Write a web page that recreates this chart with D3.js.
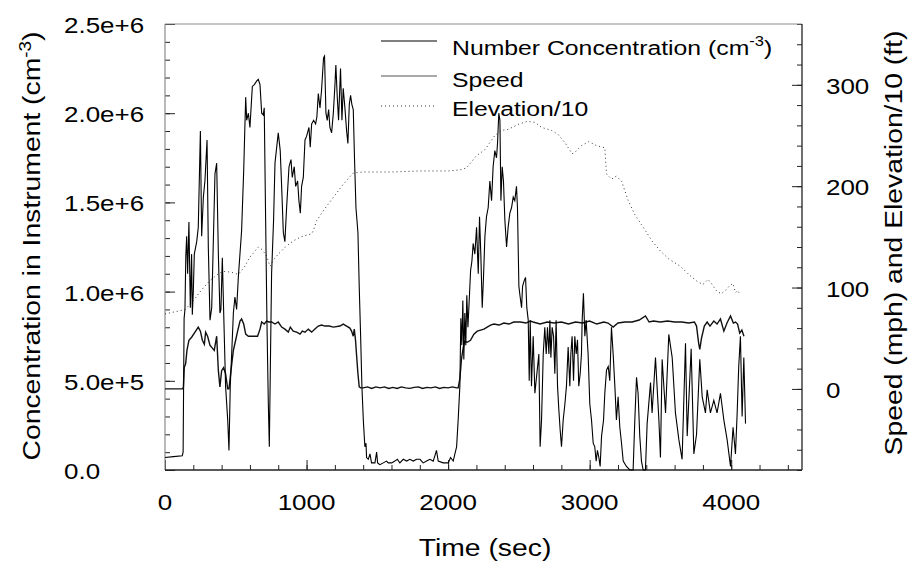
<!DOCTYPE html>
<html>
<head>
<meta charset="utf-8">
<script src="https://cdn.jsdelivr.net/npm/d3@7"></script>
<style>
  body { margin: 0; background: #fff; }
  text { font-family: "Liberation Sans", Arial, sans-serif; fill: #000; }
</style>
</head>
<body>
<svg id="chart" width="908" height="561"></svg>
<script>
// number concentration, [time sec, value in 1e6 cm^-3]
let concData = [
  [0,0.07],[60,0.075],[122,0.08],[128,0.1],[135,0.85],[141,0.90],[147,1.2],[153,1.31],[160,1.10],[169,1.39],
  [179,0.91],[188,1.21],[193,0.87],[200,1.0],[207,1.21],[224,1.28],[235,1.36],[250,1.90],[259,1.31],[271,1.53],
  [282,1.62],[297,1.85],[306,1.25],[318,0.84],[330,0.91],[353,1.66],[365,1.72],[377,1.21],[388,0.88],[395,0.90],
  [405,1.19],[414,0.90],[428,0.47],[443,0.28],[452,0.11],[461,0.47],[471,0.65],[483,0.88],[494,0.97],[506,0.90],
  [518,1.08],[541,1.34],[556,1.68],[570,2.09],[577,1.96],[589,2.00],[600,1.92],[617,2.15],[631,2.16],[647,2.18],
  [659,2.19],[671,2.16],[683,2.00],[694,1.99],[701,2.03],[711,1.40],[720,0.84],[730,0.37],[737,0.13],[744,0.56],
  [753,1.10],[767,1.40],[777,1.72],[800,1.89],[814,1.79],[824,1.59],[836,1.33],[847,1.28],[859,1.47],[876,1.70],
  [890,1.74],[899,1.64],[913,1.70],[923,1.59],[937,1.62],[946,1.51],[956,1.44],[965,1.59],[977,1.64],[989,1.85],
  [1000,1.87],[1017,1.92],[1026,1.81],[1036,1.94],[1050,1.96],[1064,1.94],[1073,1.98],[1083,2.11],[1095,2.03],[1106,2.13],
  [1120,2.31],[1127,2.32],[1137,2.00],[1146,1.96],[1156,2.02],[1165,1.92],[1177,1.89],[1189,2.00],[1200,2.15],[1207,2.27],
  [1217,2.09],[1226,1.96],[1240,2.25],[1250,1.96],[1259,2.14],[1271,2.03],[1283,1.90],[1292,1.83],[1302,2.05],[1311,2.10],
  [1320,2.05],[1330,2.02],[1339,1.74],[1349,1.47],[1356,1.40],[1363,1.33],[1372,1.03],[1382,0.75],[1391,0.47],[1401,0.28],
  [1412,0.13],[1420,0.15],[1424,0.07],[1436,0.06],[1448,0.09],[1459,0.04],[1483,0.04],[1495,0.10],[1502,0.04],[1518,0.03],
  [1542,0.04],[1565,0.05],[1577,0.04],[1601,0.04],[1624,0.05],[1641,0.06],[1659,0.04],[1683,0.06],[1707,0.05],[1730,0.06],
  [1754,0.05],[1777,0.06],[1801,0.06],[1824,0.04],[1848,0.05],[1871,0.06],[1895,0.05],[1918,0.11],[1930,0.05],[1965,0.04],
  [2001,0.04],[2017,0.07],[2036,0.05],[2048,0.09],[2060,0.13],[2071,0.28],[2083,0.47],[2090,0.85],[2097,0.70],[2104,0.95],
  [2111,0.62],[2118,0.88],[2125,0.70],[2132,0.98],[2140,0.80],[2149,0.95],[2159,1.12],[2168,1.17],[2177,1.27],[2189,1.21],
  [2201,1.36],[2213,1.10],[2222,1.42],[2231,1.21],[2241,0.91],[2250,1.08],[2260,1.31],[2271,1.42],[2283,1.47],[2295,1.62],
  [2307,1.51],[2318,1.70],[2330,1.79],[2342,1.75],[2349,1.83],[2358,2.00],[2366,1.96],[2373,1.51],[2382,1.70],[2391,1.62],
  [2401,1.40],[2413,1.25],[2424,1.36],[2436,1.44],[2448,1.47],[2460,1.53],[2471,1.51],[2483,1.59],[2490,1.47],[2500,1.03],
  [2509,0.97],[2519,0.91],[2526,1.03],[2537,1.06],[2547,1.08],[2556,0.91],[2566,0.84],[2573,0.50],[2580,0.84],[2589,0.47],
  [2601,0.75],[2613,0.43],[2627,0.54],[2641,0.65],[2650,0.13],[2660,0.28],[2672,0.65],[2683,0.80],[2693,0.65],[2702,0.80],
  [2712,0.65],[2719,0.84],[2726,0.63],[2735,0.80],[2745,0.75],[2754,0.54],[2763,0.84],[2773,0.47],[2782,0.34],[2792,0.22],
  [2801,0.13],[2813,0.28],[2825,0.37],[2836,0.47],[2848,0.69],[2860,0.47],[2867,0.65],[2876,0.75],[2886,0.50],[2895,0.75],
  [2905,0.65],[2914,0.73],[2923,0.47],[2933,0.54],[2942,0.65],[2947,0.84],[2956,0.99],[2966,0.75],[2975,0.84],[2989,0.65],
  [3001,0.37],[3013,0.28],[3025,0.15],[3036,0.13],[3046,0.05],[3055,0.11],[3065,0.07],[3074,0.02],[3084,0.19],[3098,0.28],
  [3107,0.43],[3119,0.56],[3131,0.58],[3142,0.50],[3154,0.80],[3166,0.65],[3178,0.47],[3189,0.28],[3201,0.41],[3213,0.24],
  [3225,0.15],[3237,0.05],[3260,0.02],[3284,0.0],[3307,0.0],[3319,0.28],[3331,0.52],[3342,0.43],[3354,0.19],[3366,0.05],
  [3378,0.0],[3394,0.0],[3406,0.26],[3430,0.49],[3441,0.32],[3465,0.63],[3489,0.28],[3500,0.07],[3512,0.62],[3536,0.32],
  [3559,0.76],[3583,0.63],[3606,0.32],[3630,0.17],[3653,0.06],[3677,0.71],[3689,0.19],[3717,0.68],[3736,0.09],[3755,0.20],
  [3778,0.62],[3795,0.41],[3818,0.32],[3830,0.45],[3853,0.32],[3877,0.39],[3900,0.32],[3924,0.43],[3948,0.28],[3971,0.17],
  [3995,0.02],[4013,0.24],[4030,0.09],[4042,0.32],[4053,0.58],[4065,0.75],[4077,0.30],[4089,0.63],[4101,0.26]
]

// speed, [time sec, mph]
let speedData = [
  [0,0],[125,0],[130,2],[136,21],[146,25],[155,38],[169,48],[188,51],[212,56],[235,61],[250,57],[264,48],[278,44],
  [287,56],[301,52],[318,43],[330,41],[348,38],[365,52],[377,18],[388,2],[400,18],[414,21],[428,15],[443,0],[452,0],
  [466,18],[483,38],[499,48],[513,57],[530,67],[541,69],[556,64],[570,54],[589,52],[612,52],[636,52],[654,52],[671,59],
  [683,66],[701,64],[718,67],[734,66],[753,66],[777,64],[800,66],[824,61],[847,59],[871,56],[885,61],[906,57],[930,56],
  [954,54],[970,57],[989,56],[1012,59],[1036,56],[1059,59],[1083,62],[1106,63],[1130,62],[1160,62],[1189,61],[1236,62],
  [1259,64],[1283,62],[1306,60],[1318,57],[1330,52],[1337,59],[1346,48],[1353,34],[1363,15],[1372,2],[1382,1],[1400,1],
  [1430,2],[1460,0.5],[1490,2],[1520,1],[1550,2],[1580,0.5],[1610,1.5],[1640,0.5],[1670,2],[1700,1],[1730,0.5],[1760,1.5],
  [1790,2],[1820,0.5],[1850,1.5],[1880,1],[1910,2],[1940,0.5],[1970,1.5],[2000,1],[2030,2],[2060,1],[2071,1],[2083,10],
  [2095,30],[2107,41],[2118,47],[2135,46],[2158,48],[2182,54],[2206,57],[2253,59],[2276,61],[2300,63],[2323,64],[2360,63],
  [2394,65],[2430,64],[2464,66],[2511,66],[2550,65],[2580,67],[2600,66],[2650,64],[2700,66],[2750,65],[2800,66],[2850,64],
  [2900,66],[2950,65],[3000,67],[3050,64],[3100,66],[3130,65],[3166,61],[3200,65],[3250,66],[3300,66],[3350,68],[3394,72],
  [3420,66],[3450,67],[3500,66],[3550,67],[3600,66],[3650,66],[3700,65],[3740,66],[3755,62],[3770,45],[3778,39],[3790,50],
  [3810,62],[3830,66],[3850,62],[3877,67],[3900,64],[3924,69],[3948,57],[3970,65],[3995,72],[4015,65],[4030,66],[4045,64],
  [4060,55],[4075,58],[4090,52]
]

// elevation / 10, [time sec, ft]
let elevData = [
  [0,74],[100,77],[141,78],[200,87],[260,98],[318,107],[380,114],[424,116],[470,115],[518,113],[560,120],[600,130],
  [659,140],[690,137],[718,131],[742,121],[765,127],[800,133],[850,140],[906,146],[960,150],[1036,153],[1050,157],
  [1071,166],[1130,178],[1189,189],[1260,202],[1330,213],[1400,214],[1600,214],[1800,215],[2000,215],[2080,216],
  [2130,218],[2200,230],[2260,236],[2330,250],[2377,255],[2424,256],[2495,261],[2558,264],[2613,263],[2660,258],
  [2730,255],[2777,251],[2825,243],[2876,232],[2900,234],[2942,240],[2994,244],[3048,240],[3107,238],[3119,212],
  [3154,207],[3189,210],[3225,205],[3272,186],[3319,172],[3366,162],[3390,157],[3440,146],[3500,136],[3560,128],
  [3641,121],[3707,112],[3760,106],[3800,103],[3836,108],[3860,104],[3900,96],[3930,94],[3966,98],[3990,102],
  [4013,104],[4030,95],[4045,97],[4060,94]
]

let leftTicks = [0, 0.5, 1, 1.5, 2, 2.5]
let leftLabels = ["0.0", "5.0e+5", "1.0e+6", "1.5e+6", "2.0e+6", "2.5e+6"]
let bottomTicks = [0, 1000, 2000, 3000, 4000]
let rightTicks = [0, 100, 200, 300]
let legendNames = ["Number Concentration (cm", "Speed", "Elevation/10"]

let stretch = 1.18

let svg = d3.select("#chart")

let x = d3.scaleLinear().domain([0, 4500]).range([165, 802])
let yL = d3.scaleLinear().domain([0, 2.5]).range([470, 24])
let yR = d3.scaleLinear().domain([-80, 360]).range([470, 24])

// ticks (inward), minor then major
function tickAxis(axis, cls, tx, ty) {
    let g = svg.append("g")
        .attr("transform", `translate(${tx},${ty})`)
        .call(axis)
    g.select(".domain").remove()
    g.selectAll("line").attr("stroke", "#222").attr("stroke-width", 1)
    return g
}

tickAxis(d3.axisLeft(yL).tickValues(d3.range(0, 2.51, 0.1)).tickSizeInner(-5).tickSizeOuter(0).tickFormat(""), "lm", 165, 0)
tickAxis(d3.axisLeft(yL).tickValues(leftTicks).tickSizeInner(-10).tickSizeOuter(0).tickFormat(""), "lM", 165, 0)
tickAxis(d3.axisBottom(x).tickValues(d3.range(0, 4401, 200)).tickSizeInner(-5).tickSizeOuter(0).tickFormat(""), "bm", 0, 470)
tickAxis(d3.axisBottom(x).tickValues(bottomTicks).tickSizeInner(-10).tickSizeOuter(0).tickFormat(""), "bM", 0, 470)
tickAxis(d3.axisRight(yR).tickValues(d3.range(-80, 361, 20)).tickSizeInner(-5).tickSizeOuter(0).tickFormat(""), "rm", 802, 0)
tickAxis(d3.axisRight(yR).tickValues(rightTicks).tickSizeInner(-10).tickSizeOuter(0).tickFormat(""), "rM", 802, 0)

// frame
svg.append("line").attr("x1", 165).attr("x2", 802).attr("y1", 24).attr("y2", 24).attr("stroke", "#8a8a8a").attr("stroke-width", 1.2)
svg.append("line").attr("x1", 165).attr("x2", 165).attr("y1", 24).attr("y2", 470).attr("stroke", "#8a8a8a").attr("stroke-width", 1.2)
svg.append("line").attr("x1", 165).attr("x2", 802).attr("y1", 470).attr("y2", 470).attr("stroke", "#222").attr("stroke-width", 1.3)
svg.append("line").attr("x1", 802).attr("x2", 802).attr("y1", 24).attr("y2", 470).attr("stroke", "#222").attr("stroke-width", 1.3)

// lines
let concLine = d3.line().x(d => x(d[0])).y(d => yL(d[1]))
let rightLine = d3.line().x(d => x(d[0])).y(d => yR(d[1]))

svg.append("path").datum(elevData)
    .attr("d", rightLine)
    .attr("fill", "none")
    .attr("stroke", "#333")
    .attr("stroke-width", 1)
    .attr("stroke-dasharray", "1,3")

svg.append("path").datum(speedData)
    .attr("d", rightLine)
    .attr("fill", "none")
    .attr("stroke", "#111")
    .attr("stroke-width", 1.4)

svg.append("path").datum(concData)
    .attr("d", concLine)
    .attr("fill", "none")
    .attr("stroke", "#000")
    .attr("stroke-width", 1.1)

// text helper, stretched a bit wider like the original
function addText(tx, ty, size, anchor, rot) {
    return svg.append("text")
        .attr("transform", `translate(${tx},${ty})` + (rot ? ` rotate(${rot})` : "") + ` scale(${stretch},1)`)
        .attr("text-anchor", anchor)
        .style("font-size", size + "px")
}

leftTicks.forEach((v, i) => addText(64, yL(v) + 9, 22, "start").text(leftLabels[i]))
bottomTicks.forEach(v => addText(x(v), 510, 22, "middle").text(v))
rightTicks.forEach(v => addText(826, yR(v) + 9, 22, "start").text(v))

addText(485, 556, 24, "middle").text("Time (sec)")

let lt = addText(40, 246, 24, "middle", -90)
lt.append("tspan").text("Concentration in Instrument (cm")
lt.append("tspan").attr("dy", -9).style("font-size", "16px").text("-3")
lt.append("tspan").attr("dy", 9).text(")")

addText(902, 243, 24, "middle", -90).text("Speed (mph) and Elevation/10 (ft)")

// legend
let legY = [41, 76, 106]
let legBase = [55, 87, 116]
let legStroke = ["#000", "#555", "#333"]
let legDash = [null, null, "1,3"]

legendNames.forEach((name, i) => {
    svg.append("line")
        .attr("x1", 381).attr("x2", 437)
        .attr("y1", legY[i]).attr("y2", legY[i])
        .attr("stroke", legStroke[i])
        .attr("stroke-width", 1.2)
        .attr("stroke-dasharray", legDash[i])
    let t = addText(452, legBase[i], 21, "start")
    t.append("tspan").text(name)
    if (i === 0) {
        t.append("tspan").attr("dy", -9).style("font-size", "14px").text("-3")
        t.append("tspan").attr("dy", 9).text(")")
    }
})
</script>
</body>
</html>
